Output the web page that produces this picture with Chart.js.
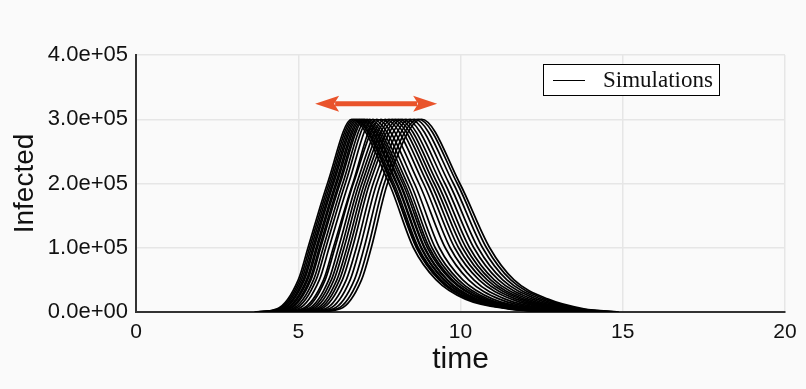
<!DOCTYPE html>
<html>
<head>
<meta charset="utf-8">
<script src="https://cdn.jsdelivr.net/npm/chart.js@4/dist/chart.umd.min.js"></script>
<style>
  html, body { margin: 0; padding: 0; background: #fafafa; }
  #wrap { width: 806px; height: 389px; }
</style>
</head>
<body>
<div id="wrap"><canvas id="simChart" width="806" height="389"></canvas></div>
<script>
// infected levels (shared by every run), read at these heights
const levels = [0, 5e3, 5e4, 1e5, 2e5, 3e5, 2e5, 1e5, 5e4, 2e4, 5e3, 0];

// time at which each simulated run passes the levels above
const simulationTimes = [
  [3.65, 4.35, 5.00, 5.30, 5.90, 6.65, 7.80, 8.55, 9.25, 10.15, 11.45, 12.95],
  [3.70, 4.40, 5.05, 5.35, 5.95, 6.70, 7.88, 8.64, 9.34, 10.25, 11.55, 13.05],
  [3.72, 4.44, 5.10, 5.40, 6.00, 6.75, 7.90, 8.66, 9.36, 10.26, 11.56, 13.05],
  [3.80, 4.50, 5.15, 5.45, 6.05, 6.80, 7.95, 8.70, 9.40, 10.30, 11.60, 13.10],
  [3.82, 4.54, 5.19, 5.49, 6.09, 6.85, 8.02, 8.78, 9.48, 10.40, 11.70, 13.20],
  [3.90, 4.60, 5.25, 5.55, 6.15, 6.90, 8.05, 8.80, 9.50, 10.40, 11.70, 13.20],
  [3.93, 4.64, 5.29, 5.59, 6.19, 6.95, 8.12, 8.88, 9.58, 10.50, 11.80, 13.30],
  [4.00, 4.70, 5.35, 5.65, 6.25, 7.00, 8.15, 8.90, 9.60, 10.50, 11.80, 13.30],
  [4.03, 4.74, 5.39, 5.69, 6.29, 7.05, 8.22, 8.98, 9.70, 10.62, 11.90, 13.40],
  [4.10, 4.82, 5.47, 5.77, 6.37, 7.12, 8.28, 9.04, 9.75, 10.66, 11.95, 13.45],
  [4.18, 4.90, 5.55, 5.85, 6.45, 7.20, 8.36, 9.12, 9.84, 10.76, 12.05, 13.55],
  [4.28, 5.00, 5.65, 5.95, 6.55, 7.30, 8.46, 9.22, 9.94, 10.86, 12.15, 13.65],
  [4.40, 5.12, 5.78, 6.08, 6.68, 7.42, 8.58, 9.35, 10.07, 11.00, 12.28, 13.75],
  [4.45, 5.20, 5.83, 6.13, 6.70, 7.55, 8.72, 9.53, 10.25, 11.20, 12.45, 13.75],
  [4.55, 5.30, 5.94, 6.24, 6.80, 7.68, 8.86, 9.68, 10.41, 11.38, 12.62, 13.90],
  [4.60, 5.38, 6.02, 6.33, 6.88, 7.80, 8.98, 9.82, 10.57, 11.57, 12.77, 14.00],
  [4.68, 5.46, 6.10, 6.41, 6.96, 7.90, 9.09, 9.94, 10.70, 11.72, 12.88, 14.10],
  [4.75, 5.55, 6.19, 6.50, 7.04, 8.00, 9.19, 10.06, 10.82, 11.85, 12.98, 14.18],
  [4.82, 5.63, 6.27, 6.58, 7.12, 8.10, 9.29, 10.17, 10.93, 11.96, 13.08, 14.25],
  [4.90, 5.71, 6.36, 6.67, 7.20, 8.20, 9.40, 10.28, 11.04, 12.08, 13.18, 14.32],
  [5.02, 5.83, 6.48, 6.79, 7.31, 8.32, 9.52, 10.41, 11.17, 12.21, 13.31, 14.42],
  [5.15, 5.95, 6.60, 6.90, 7.42, 8.45, 9.65, 10.54, 11.30, 12.35, 13.45, 14.55],
  [5.28, 6.08, 6.73, 7.03, 7.54, 8.58, 9.78, 10.68, 11.43, 12.48, 13.58, 14.68],
  [5.40, 6.20, 6.85, 7.15, 7.65, 8.70, 9.90, 10.80, 11.55, 12.60, 13.70, 14.78],
  [5.50, 6.30, 6.95, 7.25, 7.75, 8.80, 9.98, 10.90, 11.65, 12.70, 13.80, 14.88]
];

const xTicks = [0, 5, 10, 15, 20];
const yTicks = [0, 1e5, 2e5, 3e5, 4e5];

// the orange arrow showing the spread of peak times
const arrowSpan = [5.52, 9.28];
const arrowLevel = 3.24e5;

const legendLabel = 'Simulations';

const sciLabel = (v) => Number(v).toExponential(1).replace(/e([+-])(\d)$/, 'e$10$2');

const datasets = simulationTimes.map((times, i) => ({
  label: i === 0 ? legendLabel : 'run ' + (i + 1),
  data: times.map((t, j) => ({ x: t, y: levels[j] })),
  borderColor: '#000',
  borderWidth: 1.7,
  pointRadius: 0,
  fill: false,
  cubicInterpolationMode: 'monotone'
}));

const bgPlugin = {
  id: 'bg',
  beforeDraw(chart) {
    const ctx = chart.ctx;
    ctx.save();
    ctx.fillStyle = '#fafafa';
    ctx.fillRect(0, 0, chart.width, chart.height);
    ctx.restore();
  }
};

const extrasPlugin = {
  id: 'extras',
  afterDraw(chart) {
    const ctx = chart.ctx;
    const xs = chart.scales.x, ys = chart.scales.y;

    // double headed arrow
    const x0 = xs.getPixelForValue(arrowSpan[0]);
    const x1 = xs.getPixelForValue(arrowSpan[1]);
    const ay = ys.getPixelForValue(arrowLevel);
    const head = 24, half = 8;
    ctx.save();
    ctx.strokeStyle = '#e9532b';
    ctx.fillStyle = '#e9532b';
    ctx.lineWidth = 5;
    ctx.beginPath();
    ctx.moveTo(x0 + head - 4, ay);
    ctx.lineTo(x1 - head + 4, ay);
    ctx.stroke();
    ctx.beginPath();
    ctx.moveTo(x0, ay);
    ctx.lineTo(x0 + head, ay - half);
    ctx.lineTo(x0 + head - 5, ay);
    ctx.lineTo(x0 + head, ay + half);
    ctx.closePath();
    ctx.fill();
    ctx.beginPath();
    ctx.moveTo(x1, ay);
    ctx.lineTo(x1 - head, ay - half);
    ctx.lineTo(x1 - head + 5, ay);
    ctx.lineTo(x1 - head, ay + half);
    ctx.closePath();
    ctx.fill();
    ctx.restore();

    // legend box, top right inside the plot
    const bx = 543, by = 64, bw = 176, bh = 31;
    ctx.save();
    ctx.fillStyle = '#fff';
    ctx.fillRect(bx, by, bw, bh);
    ctx.strokeStyle = '#000';
    ctx.lineWidth = 1;
    ctx.strokeRect(bx + 0.5, by + 0.5, bw, bh);
    ctx.beginPath();
    ctx.moveTo(bx + 10, by + 16.5);
    ctx.lineTo(bx + 42, by + 16.5);
    ctx.stroke();
    ctx.fillStyle = '#111';
    ctx.font = '23px "Liberation Serif", "Times New Roman", serif';
    ctx.textBaseline = 'middle';
    ctx.fillText(legendLabel, bx + 60, by + 17);
    ctx.restore();
  }
};

new Chart(document.getElementById('simChart'), {
  type: 'line',
  data: { datasets: datasets },
  options: {
    responsive: false,
    animation: false,
    devicePixelRatio: 1,
    layout: { padding: { left: 0, top: 55, right: 21, bottom: 0 } },
    plugins: {
      legend: { display: false },
      tooltip: { enabled: false }
    },
    scales: {
      x: {
        type: 'linear',
        min: 0,
        max: 20,
        afterBuildTicks: (s) => { s.ticks = xTicks.map(v => ({ value: v })); },
        afterFit: (s) => { s.height = 77; },
        grid: { color: '#e6e6e6', lineWidth: 1.5, drawTicks: false },
        border: { color: '#333', width: 2 },
        ticks: {
          padding: 8,
          color: '#111',
          font: { family: '"Liberation Sans", Arial, sans-serif', size: 21 }
        },
        title: {
          display: true,
          text: 'time',
          color: '#111',
          font: { family: '"Liberation Sans", Arial, sans-serif', size: 30 },
          padding: { top: 0, bottom: 11 }
        }
      },
      y: {
        type: 'linear',
        min: 0,
        max: 4e5,
        afterBuildTicks: (s) => { s.ticks = yTicks.map(v => ({ value: v })); },
        afterFit: (s) => { s.width = 136; },
        grid: { color: '#e6e6e6', lineWidth: 1.5, drawTicks: false },
        border: { color: '#333', width: 2 },
        ticks: {
          padding: 8,
          color: '#111',
          callback: sciLabel,
          font: { family: '"Liberation Sans", Arial, sans-serif', size: 22 }
        },
        title: {
          display: true,
          text: 'Infected',
          color: '#111',
          font: { family: '"Liberation Sans", Arial, sans-serif', size: 28 },
          padding: { top: 8, bottom: 0 }
        }
      }
    }
  },
  plugins: [bgPlugin, extrasPlugin]
});
</script>
</body>
</html>
